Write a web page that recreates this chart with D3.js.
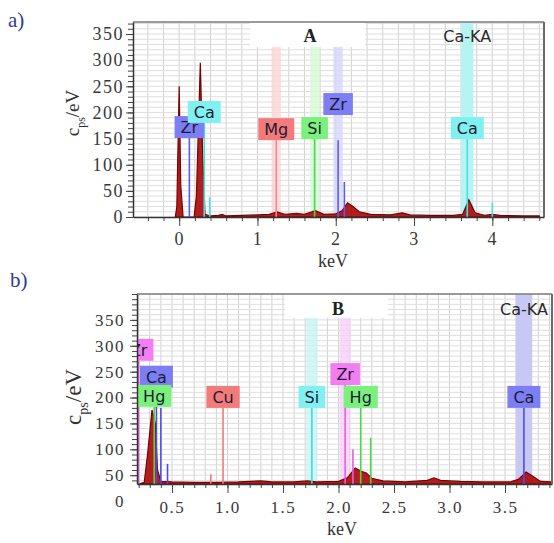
<!DOCTYPE html>
<html>
<head>
<meta charset="utf-8">
<script src="https://cdn.jsdelivr.net/npm/d3@7"></script>
<style>
body { margin: 0; background: #fff; }
svg { display: block; }
</style>
</head>
<body>
<div id="chart"></div>
<script>
// ---- panel a) spectrum A : [keV, cps/eV]
const spectrumA = [
	[-0.05, 0], [-0.03, 20], [0.0, 250], [0.02, 60], [0.05, 0], [0.19, 0], [0.22, 40],
	[0.27, 295], [0.30, 120], [0.33, 5], [0.40, 2], [0.50, 3], [0.55, 5], [0.60, 2],
	[0.80, 3], [1.00, 4], [1.15, 5], [1.25, 10], [1.35, 5], [1.50, 7], [1.60, 5],
	[1.74, 12], [1.85, 5], [2.00, 6], [2.08, 12], [2.15, 27], [2.22, 20], [2.30, 10],
	[2.45, 5], [2.70, 4], [2.85, 8], [2.95, 4], [3.20, 3], [3.50, 3], [3.62, 5],
	[3.70, 33], [3.78, 8], [3.90, 3], [4.00, 5], [4.10, 3], [4.40, 2], [4.60, 2]
];
// element markers with label (h = line top, lab = label bottom if different)
const markersA = [
	{el: "Zr", e: 0.13, h: 151},
	{el: "Ca", e: 0.32, h: 180},
	{el: "Mg", e: 1.24, h: 147},
	{el: "Si", e: 1.73, h: 149},
	{el: "Zr", e: 2.03, h: 147, lab: 195},
	{el: "Ca", e: 3.68, h: 149}
];
// secondary lines without label
const linesA = [
	{el: "Ca", e: 0.39, h: 38},
	{el: "Zr", e: 2.11, h: 67},
	{el: "Ca", e: 4.00, h: 28}
];
const bandsA = [{el: "Mg", e: 1.24}, {el: "Si", e: 1.73}, {el: "Zr", e: 2.03}];
const selectedA = {name: "Ca-KA", el: "Ca", e: 3.68};
const xTicksA = [0, 1, 2, 3, 4];

// ---- panel b) spectrum B
const spectrumB = [
	[0.20, 33], [0.25, 36], [0.28, 90], [0.32, 176], [0.35, 150], [0.37, 60], [0.40, 38],
	[0.50, 37], [0.70, 36], [0.90, 36], [1.10, 37], [1.30, 39], [1.40, 37], [1.60, 37],
	[1.72, 39], [1.80, 37], [2.00, 38], [2.08, 45], [2.15, 64], [2.20, 58], [2.25, 54],
	[2.30, 44], [2.40, 39], [2.60, 37], [2.80, 40], [2.86, 45], [2.92, 40], [3.00, 39],
	[3.10, 38], [3.30, 37], [3.55, 37], [3.62, 42], [3.69, 56], [3.75, 48], [3.82, 38],
	[3.92, 37]
];
const markersB = [
	{el: "Zr", e: 0.20, h: 271},
	{el: "Ca", e: 0.36, h: 219},
	{el: "Hg", e: 0.34, h: 182},
	{el: "Cu", e: 0.96, h: 180},
	{el: "Si", e: 1.76, h: 180},
	{el: "Zr", e: 2.06, h: 224},
	{el: "Hg", e: 2.20, h: 180},
	{el: "Ca", e: 3.67, h: 180}
];
const linesB = [
	{el: "Ca", e: 0.40, h: 180},
	{el: "Ca", e: 0.46, h: 72},
	{el: "Cu", e: 0.85, h: 52},
	{el: "Zr", e: 2.13, h: 100},
	{el: "Hg", e: 2.29, h: 122}
];
const bandsB = [{el: "Si", e: 1.76}, {el: "Zr", e: 2.06}];
const selectedB = {name: "Ca-KA", el: "Ca", e: 3.67};
const xTicksB = [0.5, 1.0, 1.5, 2.0, 2.5, 3.0, 3.5];

const yTicks = [0, 50, 100, 150, 200, 250, 300, 350];

// colours per panel
const colA = {
	Zr: {line: "#5c5cf0", fill: "#7e7ef4", band: "#d6d6fc"},
	Ca: {line: "#3fe3e3", fill: "#80f0f0", band: "#b6f3f3"},
	Mg: {line: "#f08a8a", fill: "#f27a7a", band: "#fcd6d6"},
	Si: {line: "#4ad84a", fill: "#7cf07c", band: "#d4fad4"}
};
const colB = {
	Zr: {line: "#e060e0", fill: "#f27ef2", band: "#f8d0f8"},
	Ca: {line: "#4c4ce8", fill: "#7e7ef4", band: "#c8c8f6"},
	Hg: {line: "#4ad84a", fill: "#7cf07c", band: "#d4fad4"},
	Cu: {line: "#f07a7a", fill: "#f27a7a", band: "#fcd6d6"},
	Si: {line: "#40dada", fill: "#80f0f0", band: "#c8f4f4"}
};

const W = 554, H = 543;
const serif = "'Liberation Serif', 'Times New Roman', serif";
const sans = "'DejaVu Sans', Verdana, sans-serif";

const svg = d3.select("#chart").append("svg")
	.attr("width", W)
	.attr("height", H);

function steps(d0, d1, step) {
	return d3.range(Math.ceil(d0 / step - 1e-6), Math.floor(d1 / step + 1e-6) + 1)
		.map(function (i) { return +(i * step).toFixed(4); });
}

function drawPanel(p) {
	let b = p.box;
	let x = d3.scaleLinear().domain(p.xDomain).range([b.x0, b.x1]);
	let y = d3.scaleLinear().domain(p.yDomain).range([b.y1, b.y0]);

	svg.append("clipPath").attr("id", "clip" + p.id)
		.append("rect")
		.attr("x", b.x0).attr("y", b.y0)
		.attr("width", b.x1 - b.x0).attr("height", b.y1 - b.y0);

	let g = svg.append("g");
	let plot = g.append("g").attr("clip-path", "url(#clip" + p.id + ")");

	// grid
	plot.append("g").selectAll("line")
		.data(steps(p.xDomain[0], p.xDomain[1], p.xGrid))
		.join("line")
		.attr("x1", d => x(d)).attr("x2", d => x(d))
		.attr("y1", b.y0).attr("y2", b.y1)
		.attr("stroke", "#d2d2d2").attr("stroke-width", 1);
	plot.append("g").selectAll("line")
		.data(steps(p.yDomain[0], p.yDomain[1], 10))
		.join("line")
		.attr("x1", b.x0).attr("x2", b.x1)
		.attr("y1", d => y(d)).attr("y2", d => y(d))
		.attr("stroke", "#dedede").attr("stroke-width", 1);

	// energy windows
	plot.append("g").selectAll("rect")
		.data(p.bands)
		.join("rect")
		.attr("x", d => x(d.e - p.bandW / 2))
		.attr("width", d => x(d.e + p.bandW / 2) - x(d.e - p.bandW / 2))
		.attr("y", b.y0).attr("height", b.y1 - b.y0)
		.attr("fill", d => p.col[d.el].band).attr("opacity", 0.8);
	plot.append("rect")
		.attr("x", x(p.selected.e - p.selW / 2))
		.attr("width", x(p.selected.e + p.selW / 2) - x(p.selected.e - p.selW / 2))
		.attr("y", b.y0).attr("height", b.y1 - b.y0)
		.attr("fill", p.col[p.selected.el].band);

	// title box
	plot.append("rect")
		.attr("x", p.titleBox[0]).attr("y", b.y0)
		.attr("width", p.titleBox[1] - p.titleBox[0]).attr("height", p.titleBox[2] - b.y0)
		.attr("fill", "#fff");
	g.append("text")
		.attr("x", p.titlePos[0]).attr("y", p.titlePos[1])
		.attr("text-anchor", "middle")
		.attr("font-family", serif).attr("font-weight", "bold").attr("font-size", 18)
		.attr("fill", "#222")
		.text(p.title);
	g.append("text")
		.attr("x", x(p.selected.e)).attr("y", p.titlePos[1] - 0.5)
		.attr("text-anchor", "middle")
		.attr("font-family", sans).attr("font-size", 16)
		.attr("fill", "#2a2a2a")
		.text(p.selected.name);

	// spectrum
	let area = d3.area()
		.x(d => x(d[0]))
		.y0(b.y1)
		.y1(d => y(d[1]));
	plot.append("path")
		.datum(p.spectrum)
		.attr("d", area)
		.attr("fill", "#a80000").attr("fill-opacity", 0.88)
		.attr("stroke", "#780000").attr("stroke-width", 1.2);

	// marker lines
	plot.append("g").selectAll("line")
		.data(p.lines.concat(p.markers))
		.join("line")
		.attr("x1", d => x(d.e)).attr("x2", d => x(d.e))
		.attr("y1", b.y1).attr("y2", d => y(d.h))
		.attr("stroke", d => p.col[d.el].line).attr("stroke-width", 1.6);

	// labels
	let labs = plot.append("g").selectAll("g")
		.data(p.markers)
		.join("g")
		.attr("transform", d => "translate(" + x(d.e) + "," + y(d.lab || d.h) + ")");
	labs.append("rect").attr("fill", d => p.col[d.el].fill);
	labs.append("text")
		.attr("text-anchor", "middle")
		.attr("y", -5)
		.attr("font-family", sans).attr("font-size", 16)
		.attr("fill", "#1c1c34")
		.text(d => d.el);
	labs.each(function () {
		let w = d3.select(this).select("text").node().getComputedTextLength() + 12;
		d3.select(this).select("rect")
			.attr("x", -w / 2).attr("y", -22)
			.attr("width", w).attr("height", 22);
	});

	// frame top / right
	g.append("line")
		.attr("x1", b.x0).attr("x2", b.x1).attr("y1", b.y0).attr("y2", b.y0)
		.attr("stroke", "#7a7a7a").attr("stroke-width", 1.5);
	g.append("line")
		.attr("x1", b.x1).attr("x2", b.x1).attr("y1", b.y0).attr("y2", b.y1)
		.attr("stroke", "#6a6a6a").attr("stroke-width", 2);

	// axes
	let xMinor = g.append("g")
		.attr("transform", "translate(0," + b.y1 + ")")
		.call(d3.axisBottom(x)
			.tickValues(steps(p.xDomain[0], p.xDomain[1], p.xMinor))
			.tickSize(4).tickSizeOuter(0).tickFormat(""));
	xMinor.select(".domain").remove();

	let xAxis = g.append("g")
		.attr("transform", "translate(0," + b.y1 + ")")
		.call(d3.axisBottom(x)
			.tickValues(p.xTicks)
			.tickSize(9).tickSizeOuter(0).tickPadding(p.xPad)
			.tickFormat(d3.format(p.xFmt)));

	let yMinor = g.append("g")
		.attr("transform", "translate(" + b.x0 + ",0)")
		.call(d3.axisLeft(y)
			.tickValues(steps(p.yDomain[0], p.yDomain[1], 10))
			.tickSize(5).tickSizeOuter(0).tickFormat(""));
	yMinor.select(".domain").remove();

	let yAxis = g.append("g")
		.attr("transform", "translate(" + b.x0 + ",0)")
		.call(d3.axisLeft(y)
			.tickValues(yTicks)
			.tickSize(7).tickSizeOuter(0).tickPadding(p.yPad));
	yAxis.selectAll(".tick").filter(d => d < p.yDomain[0]).select("line").remove();

	[xAxis, yAxis, xMinor, yMinor].forEach(function (a) {
		a.selectAll("line").attr("stroke", "#444");
		a.select(".domain").attr("stroke", "#333").attr("stroke-width", 1.5);
	});
	[xAxis, yAxis].forEach(function (a) {
		a.selectAll("text")
			.attr("font-family", serif)
			.attr("font-size", p.tickSize)
			.attr("letter-spacing", 1.5)
			.attr("fill", "#383838");
	});

	// axis titles
	g.append("text")
		.attr("x", p.xLabel[0]).attr("y", p.xLabel[1])
		.attr("text-anchor", "middle")
		.attr("font-family", serif).attr("font-size", 18).attr("fill", "#333")
		.text("keV");
	let yl = g.append("text")
		.attr("transform", "translate(" + p.yLabel[0] + "," + p.yLabel[1] + ") rotate(-90)")
		.attr("text-anchor", "middle")
		.attr("font-family", serif).attr("font-size", p.yLabel[2]).attr("fill", "#333");
	yl.append("tspan").text("c");
	yl.append("tspan").attr("font-size", p.yLabel[2] * 0.62).attr("dy", p.yLabel[2] * 0.3).text("ps");
	yl.append("tspan").attr("dy", -p.yLabel[2] * 0.3).text("/eV");

	// panel tag
	svg.append("text")
		.attr("x", p.tag[0]).attr("y", p.tag[1])
		.attr("font-family", serif).attr("font-size", 21).attr("fill", "#2e3c8e")
		.text(p.tagText);
}

drawPanel({
	id: "A",
	box: {x0: 133, x1: 544, y0: 22, y1: 217},
	xDomain: [-0.59, 4.66],
	yDomain: [0, 373],
	xTicks: xTicksA, xFmt: "d", xMinor: 0.2, xGrid: 0.2,
	xPad: 6, yPad: 2, tickSize: 18,
	spectrum: spectrumA, markers: markersA, lines: linesA,
	bands: bandsA, selected: selectedA, bandW: 0.12, selW: 0.155,
	col: colA,
	title: "A", titlePos: [310, 42], titleBox: [250, 365, 47],
	xLabel: [333, 267], yLabel: [79, 113, 19],
	tag: [8, 27], tagText: "a)"
});

drawPanel({
	id: "B",
	box: {x0: 137, x1: 552, y0: 294, y1: 484},
	xDomain: [0.185, 3.923],
	yDomain: [33, 400],
	xTicks: xTicksB, xFmt: ".1f", xMinor: 0.1, xGrid: 0.1,
	xPad: 8, yPad: 5, tickSize: 17,
	spectrum: spectrumB, markers: markersB, lines: linesB,
	bands: bandsB, selected: selectedB, bandW: 0.1, selW: 0.15,
	col: colB,
	title: "B", titlePos: [338, 315], titleBox: [285, 388, 318],
	xLabel: [342, 535], yLabel: [81, 397, 23],
	tag: [10, 287], tagText: "b)"
});
</script>
</body>
</html>
